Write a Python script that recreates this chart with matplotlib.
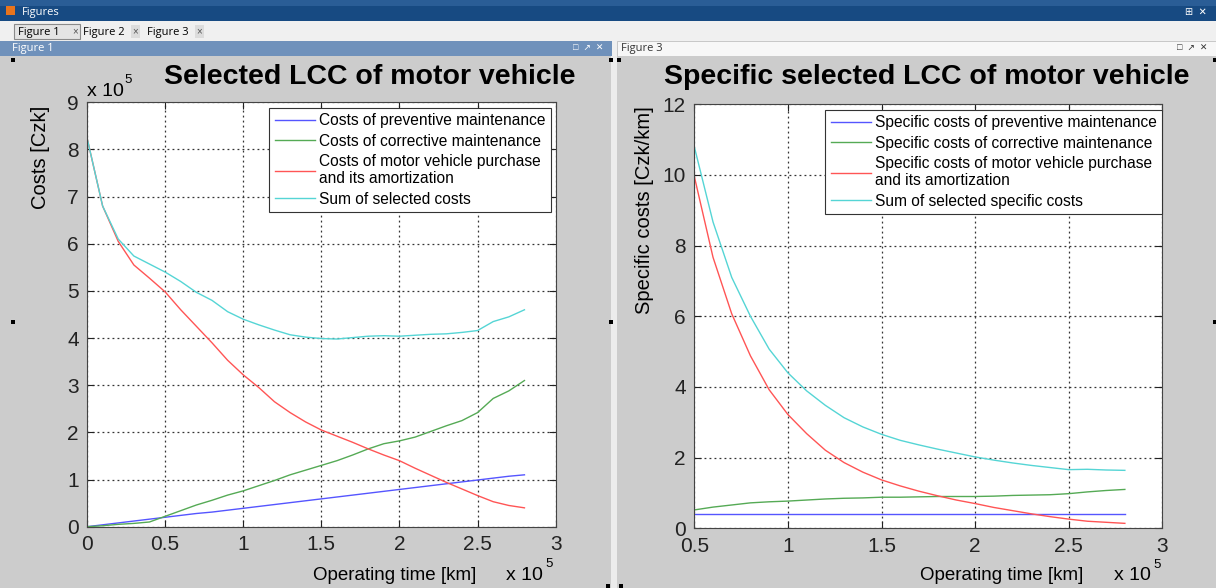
import matplotlib
matplotlib.use("Agg")
import matplotlib.pyplot as plt
from matplotlib.patches import Rectangle

plt.rcParams['font.family'] = ['Liberation Sans', 'DejaVu Sans']

# ---------------- data (x in units of 1e5 km) ----------------
x_left = [0.0, 0.1, 0.2, 0.3, 0.4, 0.5, 0.6, 0.7, 0.8, 0.9, 1.0, 1.1, 1.2, 1.3, 1.4,
          1.5, 1.6, 1.7, 1.8, 1.9, 2.0, 2.1, 2.2, 2.3, 2.4, 2.5, 2.6, 2.7, 2.8]
prev_costs = [0.0, 0.04, 0.08, 0.12, 0.16, 0.2, 0.24, 0.28, 0.31, 0.35, 0.39, 0.43, 0.47, 0.51, 0.55,
              0.59, 0.63, 0.67, 0.71, 0.75, 0.79, 0.83, 0.87, 0.91, 0.95, 0.99, 1.03, 1.07, 1.10]
corr_costs = [0.0, 0.02, 0.05, 0.07, 0.1, 0.22, 0.34, 0.46, 0.56, 0.67, 0.76, 0.87, 0.98, 1.10, 1.2,
              1.3, 1.4, 1.52, 1.65, 1.76, 1.82, 1.9, 2.02, 2.14, 2.25, 2.42, 2.72, 2.88, 3.10]
purch_costs = [8.25, 6.8, 6.05, 5.55, 5.27, 4.98, 4.6, 4.25, 3.9, 3.53, 3.22, 2.95, 2.65, 2.42, 2.22,
               2.05, 1.92, 1.79, 1.65, 1.52, 1.40, 1.24, 1.09, 0.94, 0.8, 0.66, 0.53, 0.45, 0.40]
sum_costs = [8.25, 6.8, 6.1, 5.74, 5.57, 5.4, 5.2, 4.97, 4.8, 4.56, 4.4, 4.28, 4.17, 4.07, 4.02,
             3.99, 3.98, 4.01, 4.04, 4.05, 4.04, 4.06, 4.08, 4.09, 4.12, 4.16, 4.35, 4.45, 4.60]

x_right = [0.5, 0.6, 0.7, 0.8, 0.9, 1.0, 1.1, 1.2, 1.3, 1.4, 1.5, 1.6, 1.7, 1.8, 1.9,
           2.0, 2.1, 2.2, 2.3, 2.4, 2.5, 2.6, 2.7, 2.8]
spec_prev = [0.4, 0.4, 0.4, 0.4, 0.4, 0.4, 0.4, 0.4, 0.4, 0.4, 0.4, 0.4, 0.4, 0.4, 0.4,
             0.4, 0.4, 0.4, 0.4, 0.4, 0.4, 0.4, 0.4, 0.4]
spec_corr = [0.52, 0.6, 0.66, 0.72, 0.75, 0.77, 0.8, 0.83, 0.85, 0.86, 0.88, 0.88, 0.89, 0.9, 0.9,
             0.9, 0.91, 0.93, 0.94, 0.95, 0.98, 1.03, 1.07, 1.1]
spec_purch = [9.96, 7.67, 6.07, 4.88, 3.92, 3.22, 2.68, 2.21, 1.86, 1.59, 1.37, 1.2, 1.05, 0.92, 0.8,
              0.7, 0.59, 0.5, 0.41, 0.33, 0.26, 0.2, 0.17, 0.14]
spec_sum = [10.8, 8.67, 7.1, 6.0, 5.07, 4.4, 3.89, 3.48, 3.13, 2.87, 2.66, 2.49, 2.36, 2.24, 2.13,
            2.02, 1.93, 1.85, 1.78, 1.72, 1.66, 1.67, 1.65, 1.64]

labels_left = ["Costs of preventive maintenance", "Costs of corrective maintenance",
               "Costs of motor vehicle purchase\nand its amortization", "Sum of selected costs"]
labels_right = ["Specific costs of preventive maintenance", "Specific costs of corrective maintenance",
                "Specific costs of motor vehicle purchase\nand its amortization",
                "Sum of selected specific costs"]
xt_left = [0, 0.5, 1, 1.5, 2, 2.5, 3]
xtl_left = ["0", "0.5", "1", "1.5", "2", "2.5", "3"]
yt_left = [0, 1, 2, 3, 4, 5, 6, 7, 8, 9]
xt_right = [0.5, 1, 1.5, 2, 2.5, 3]
xtl_right = ["0.5", "1", "1.5", "2", "2.5", "3"]
yt_right = [0, 2, 4, 6, 8, 10, 12]

colors = ["#5555ff", "#55aa55", "#ff5555", "#55d5d5"]

W, H = 1216, 588
fig = plt.figure(figsize=(W / 100, H / 100), dpi=100)

# ---------------- window chrome (pixel coords) ----------------
bg = fig.add_axes([0, 0, 1, 1], zorder=-10)
bg.set_xlim(0, W)
bg.set_ylim(H, 0)
bg.axis('off')

def rect(x, y, w, h, fc, ec='none', lw=0.0):
    bg.add_patch(Rectangle((x, y), w, h, facecolor=fc, edgecolor=ec, linewidth=lw))

ui = ['Open Sans', 'DejaVu Sans']
rect(0, 0, W, H, "#f0f0f0")
rect(0, 0, W, 21, "#174a82")
rect(0, 0, W, 6, "#2a5d96")
bg.text(22, 12, "Figures", color="white", fontsize=8, va='center', ha='left', family=ui)
bg.add_patch(Rectangle((6, 6), 9, 9, facecolor="#e8741c", edgecolor='none'))
bg.text(1196, 12, "\u229e  \u2715", color="white", fontsize=7, va='center', ha='center')
# tab bar
rect(0, 21, W, 20, "#f0f0f0")
rect(14, 24, 66, 15, "#e4e4e4", ec="#8a8a8a", lw=0.8)
bg.text(18, 32, "Figure 1", fontsize=8, va='center', family=ui)
bg.text(72, 31, "\u00d7", fontsize=7, va='center', color="#555555")
bg.text(83, 32, "Figure 2", fontsize=8, va='center', family=ui)
rect(131, 25, 9, 13, "#dcdcdc")
bg.text(132, 31, "\u00d7", fontsize=7, va='center', color="#555555")
bg.text(147, 32, "Figure 3", fontsize=8, va='center', family=ui)
rect(195, 25, 9, 13, "#dcdcdc")
bg.text(196, 31, "\u00d7", fontsize=7, va='center', color="#555555")
# panel headers
rect(0, 41, 612, 15, "#6f91bb")
bg.text(12, 48.5, "Figure 1", fontsize=8, va='center', color="white", family=ui)
bg.text(588, 48.5, "\u25a1  \u2197  \u2715", fontsize=6.5, va='center', ha='center', color="white")
rect(617, 41, 599, 15, "#f7f7f7", ec="#c0c0c0", lw=0.6)
bg.text(621, 48.5, "Figure 3", fontsize=8, va='center', color="#333333", family=ui)
bg.text(1192, 48.5, "\u25a1  \u2197  \u2715", fontsize=6.5, va='center', ha='center', color="#333333")
# panel backgrounds
rect(0, 56, 611, 532, "#cccccc")
rect(611, 56, 6, 532, "#ececec")
rect(617, 56, 599, 532, "#cccccc")
# resize handles
for (hx, hy) in [(11, 58), (609, 58), (11, 320), (609, 320), (606, 584), (617, 58), (619, 584), (1213, 58), (1213, 320)]:
    rect(hx, hy, 4, 4, "black")

# ---------------- axes ----------------
def make_axes(x0, y0, x1, y1):
    return fig.add_axes([x0 / W, 1 - y1 / H, (x1 - x0) / W, (y1 - y0) / H])

tick_fs = 15
axL = make_axes(87, 102.3, 555.7, 526.7)
axR = make_axes(694.3, 104.3, 1162.3, 528.3)

for ax in (axL, axR):
    ax.set_facecolor("white")
    ax.grid(True, linestyle=(0, (1.5, 2.5)), color="#333333", linewidth=0.9)
    ax.set_axisbelow(True)
    ax.tick_params(direction='in', top=True, right=True, length=5, width=0.8,
                   labelsize=tick_fs, pad=6, colors="#222222")
    for s in ax.spines.values():
        s.set_color("#444444")
        s.set_linewidth(0.8)

series_L = [prev_costs, corr_costs, purch_costs, sum_costs]
for vals, c, lab in zip(series_L, colors, labels_left):
    axL.plot(x_left, vals, color=c, lw=1.0, label=lab)
axL.set_xlim(0, 3)
axL.set_ylim(0, 9)
axL.set_xticks(xt_left)
axL.set_xticklabels(xtl_left)
axL.set_yticks(yt_left)
axL.set_yticklabels([str(v) for v in yt_left])

series_R = [spec_prev, spec_corr, spec_purch, spec_sum]
for vals, c, lab in zip(series_R, colors, labels_right):
    axR.plot(x_right, vals, color=c, lw=1.0, label=lab)
axR.set_xlim(0.5, 3)
axR.set_ylim(0, 12)
axR.set_xticks(xt_right)
axR.set_xticklabels(xtl_right)
axR.set_yticks(yt_right)
axR.set_yticklabels([str(v) for v in yt_right])

leg_kw = dict(fontsize=11.2, handlelength=2.6, handletextpad=0.25, borderpad=0.35,
              labelspacing=0.34, fancybox=False, framealpha=1, edgecolor="#333333",
              borderaxespad=0.0)
lgL = axL.legend(loc='upper right', bbox_to_anchor=(0.99, 0.9866), **leg_kw)
lgR = axR.legend(loc='upper right', bbox_to_anchor=(1.0, 0.9866), **leg_kw)
for lg in (lgL, lgR):
    lg.get_frame().set_linewidth(0.8)

# titles and labels (pixel coordinates on background)
bg.text(370, 77, "Selected LCC of motor vehicle", fontsize=20.5, fontweight='bold',
        ha='center', va='center', zorder=5)
bg.text(927, 77, "Specific selected LCC of motor vehicle", fontsize=20.5, fontweight='bold',
        ha='center', va='center', zorder=5)
bg.text(40, 157, "Costs [Czk]", fontsize=14.5, rotation=90, ha='center', va='center')
bg.text(645, 210, "Specific costs [Czk/km]", fontsize=14.5, rotation=90, ha='center', va='center')
bg.text(87, 91, "x 10", fontsize=14, ha='left', va='center')
bg.text(124, 80, "5", fontsize=9.5, ha='left', va='center')
bg.text(313, 575, "Operating time [km]", fontsize=13.5, ha='left', va='center')
bg.text(506, 575, "x 10", fontsize=14, ha='left', va='center')
bg.text(545, 564, "5", fontsize=9.5, ha='left', va='center')
bg.text(920, 576, "Operating time [km]", fontsize=13.5, ha='left', va='center')
bg.text(1114, 576, "x 10", fontsize=14, ha='left', va='center')
bg.text(1153, 565, "5", fontsize=9.5, ha='left', va='center')

fig.savefig("out.png", dpi=100)
